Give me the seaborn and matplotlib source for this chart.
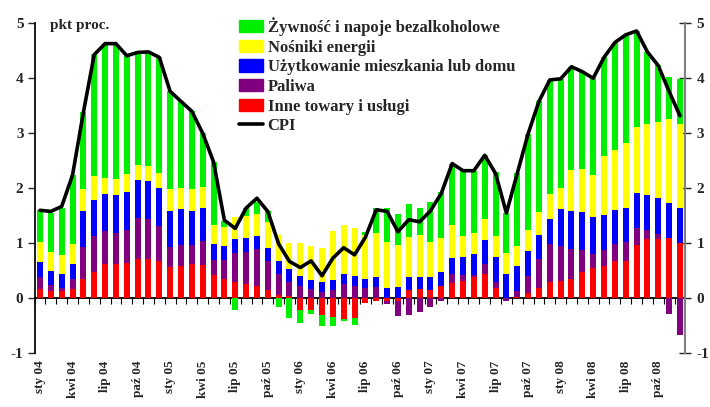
import numpy as np
import seaborn as sns
import matplotlib
matplotlib.use("Agg")
import matplotlib.pyplot as plt
from matplotlib.patches import Patch
from matplotlib.lines import Line2D

months = ["sty", "lut", "mar", "kwi", "maj", "cze", "lip", "sie", "wrz", "paź", "lis", "gru"]
years = ["04", "05", "06", "07", "08"]
periods = [f"{m} {y}" for y in years for m in months]

# contributions, pkt proc.
inne = [0.17, 0.13, 0.13, 0.17, 0.35, 0.47, 0.62, 0.62, 0.64, 0.72, 0.72, 0.68,
        0.57, 0.59, 0.62, 0.60, 0.42, 0.35, 0.30, 0.26, 0.23, 0.15, 0.06, 0.04,
        -0.21, -0.22, -0.30, -0.34, -0.38, -0.35, -0.09, -0.05, -0.05, -0.04, 0.16, 0.17,
        0.16, 0.23, 0.28, 0.31, 0.39, 0.45, 0.18, 0.00, 0.03, 0.09, 0.18, 0.30,
        0.32, 0.35, 0.47, 0.56, 0.58, 0.67, 0.67, 0.97, 1.08, 1.08, 1.09, 1.00]
paliwa = [0.21, 0.11, 0.05, 0.19, 0.58, 0.66, 0.60, 0.57, 0.61, 0.74, 0.73, 0.64,
          0.36, 0.38, 0.35, 0.45, 0.28, 0.35, 0.52, 0.59, 0.66, 0.53, 0.39, 0.26,
          0.22, 0.17, 0.12, 0.16, 0.26, 0.23, 0.18, 0.20, -0.06, -0.28, -0.30, -0.25,
          -0.15, -0.04, 0.16, 0.11, 0.03, 0.17, 0.12, -0.04, 0.11, 0.32, 0.53, 0.69,
          0.64, 0.54, 0.41, 0.25, 0.30, 0.32, 0.36, 0.30, 0.16, 0.09, -0.28, -0.67]
mieszkanie = [0.28, 0.26, 0.26, 0.26, 0.65, 0.66, 0.67, 0.68, 0.69, 0.69, 0.69, 0.69,
              0.66, 0.65, 0.62, 0.60, 0.28, 0.26, 0.25, 0.24, 0.25, 0.24, 0.23, 0.23,
              0.19, 0.16, 0.17, 0.17, 0.18, 0.18, 0.17, 0.18, 0.18, 0.20, 0.22, 0.22,
              0.23, 0.24, 0.29, 0.33, 0.39, 0.44, 0.46, 0.45, 0.45, 0.45, 0.44, 0.45,
              0.67, 0.69, 0.69, 0.66, 0.64, 0.62, 0.62, 0.65, 0.64, 0.65, 0.65, 0.65]
nosniki = [0.36, 0.35, 0.35, 0.36, 0.40, 0.43, 0.29, 0.30, 0.32, 0.27, 0.27, 0.26,
           0.40, 0.39, 0.40, 0.38, 0.35, 0.34, 0.40, 0.41, 0.39, 0.47, 0.47, 0.48,
           0.60, 0.63, 0.63, 0.89, 0.89, 0.87, 0.80, 0.81, 0.84, 0.77, 0.74, 0.76,
           0.63, 0.62, 0.60, 0.38, 0.37, 0.38, 0.38, 0.37, 0.36, 0.39, 0.42, 0.45,
           0.38, 0.75, 0.78, 0.78, 1.07, 1.09, 1.17, 1.20, 1.28, 1.38, 1.52, 1.51]
zywnosc = [0.59, 0.71, 0.86, 1.26, 1.41, 2.22, 2.45, 2.46, 2.16, 2.06, 2.07, 2.11,
           1.77, 1.57, 1.42, 0.97, 1.14, 0.11, -0.21, 0.14, 0.23, 0.19, -0.15, -0.36,
           -0.24, -0.06, -0.20, -0.16, -0.04, -0.13, 0.06, 0.45, 0.63, 0.56, 0.60, 0.49,
           0.73, 0.84, 1.12, 1.20, 1.14, 1.17, 1.16, 0.73, 1.32, 1.74, 2.01, 2.08,
           1.98, 1.88, 1.77, 1.75, 1.79, 1.95, 1.97, 1.74, 1.32, 1.04, 0.77, 0.83]
cpi = [1.60, 1.58, 1.67, 2.24, 3.38, 4.43, 4.63, 4.63, 4.41, 4.47, 4.48, 4.38,
       3.76, 3.58, 3.40, 3.00, 2.48, 1.42, 1.27, 1.64, 1.82, 1.58, 0.99, 0.67,
       0.56, 0.68, 0.41, 0.73, 0.92, 0.79, 1.11, 1.61, 1.58, 1.21, 1.43, 1.39,
       1.59, 1.91, 2.45, 2.32, 2.32, 2.60, 2.27, 1.55, 2.27, 2.99, 3.58, 3.97,
       3.99, 4.21, 4.12, 4.00, 4.38, 4.65, 4.79, 4.86, 4.48, 4.23, 3.76, 3.32]

labels = ["Żywność i napoje bezalkoholowe", "Nośniki energii",
          "Użytkowanie mieszkania lub domu", "Paliwa", "Inne towary i usługi"]
colors = ["#00ee00", "#ffff00", "#0000ff", "#800080", "#ff0000"]

# stacking order from the bottom up
layers = [(inne, colors[4]), (paliwa, colors[3]), (mieszkanie, colors[2]),
          (nosniki, colors[1]), (zywnosc, colors[0])]

sns.set_theme(style="ticks")
plt.rcParams["font.family"] = ["Liberation Serif", "DejaVu Serif"]
plt.rcParams["font.weight"] = "bold"
plt.rcParams["axes.unicode_minus"] = False

fig = plt.figure(figsize=(7.1, 4.07), dpi=100)
ax = fig.add_axes([0.0487, 0.1319, 0.9166, 0.8109])

idx = np.arange(len(periods))
pos = np.zeros(len(idx))
neg = np.zeros(len(idx))
for vals, col in layers:
    v = np.array(vals)
    base = np.where(v >= 0, pos, neg)
    sns.barplot(x=idx, y=v, bottom=base, native_scale=True, color=col,
                saturation=1, width=0.55, linewidth=0, errorbar=None, ax=ax)
    pos += np.clip(v, 0, None)
    neg += np.clip(v, None, 0)

sns.lineplot(x=idx, y=cpi, color="black", linewidth=2.6, sort=False, ax=ax)

ax.set_xlim(-0.5, 59.5)
ax.set_ylim(-1, 5)
ax.set_xlabel("")
ax.set_ylabel("")

ax.set_xticks(idx[::3])
ax.set_xticklabels(periods[::3], rotation=90, fontsize=9.5, fontweight="bold")
ax.tick_params(axis="x", length=0, pad=5)

ax.set_yticks(range(-1, 6))
ax.tick_params(axis="y", which="major", left=True, right=True, labelleft=True,
               labelright=True, labelsize=11, width=1, length=5,
               direction="out", pad=3)
# right-hand ticks cross the axis line
for tick in ax.yaxis.get_major_ticks():
    tick.tick2line.set_marker("_")
    tick.tick2line.set_markersize(8)
for lab in ax.get_yticklabels():
    lab.set_fontweight("bold")

ax.spines["top"].set_visible(False)
ax.spines["bottom"].set_visible(False)
ax.spines["left"].set_color("black")
ax.spines["right"].set_visible(True)
ax.spines["right"].set_color("#808080")
ax.spines["right"].set_linewidth(1.5)

# zero line with a small tick at every month boundary
zero = ax.secondary_xaxis(1 / 6)
zero.set_xticks(np.arange(-0.5, 60, 1))
zero.set_xticklabels([])
zero.tick_params(length=4, width=0.8, direction="out", color="black")
zero.spines["bottom"].set_linewidth(1.3)
zero.spines["bottom"].set_color("black")

handles = [Patch(color=c) for c in colors] + [Line2D([0], [0], color="black", lw=2.6)]
fig.legend(handles, labels + ["CPI"], loc="upper left", bbox_to_anchor=(0.337, 0.958),
           frameon=False, prop={"size": 12, "weight": "bold"}, handlelength=1.45,
           handleheight=0.75, handletextpad=0.25, labelspacing=0.22,
           borderpad=0, borderaxespad=0)

fig.text(50 / 710, 1 - 26 / 407, "pkt proc.", va="center", ha="left",
         fontsize=11, fontweight="bold")

fig.savefig("out.png", dpi=100)
